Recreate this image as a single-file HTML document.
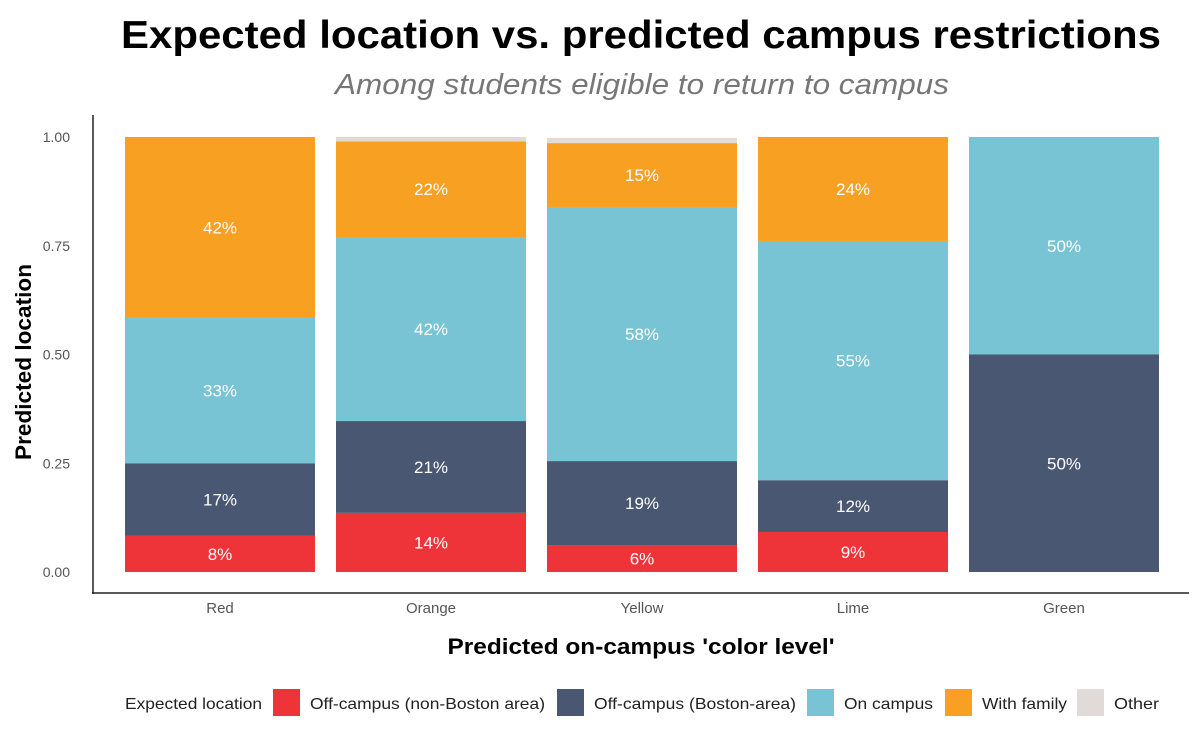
<!DOCTYPE html>
<html><head><meta charset="utf-8"><style>
body{margin:0;background:#fff;}
svg{display:block;font-family:"Liberation Sans",Arial,sans-serif;}
</style></head><body>
<svg id="chart" width="1200" height="738" viewBox="0 0 1200 738">
<text x="641" y="48" text-anchor="middle" font-size="39" font-weight="bold" fill="#000" textLength="1040" lengthAdjust="spacingAndGlyphs">Expected location vs. predicted campus restrictions</text>
<text x="642" y="94" text-anchor="middle" font-size="29" font-style="italic" fill="#777" textLength="614" lengthAdjust="spacingAndGlyphs">Among students eligible to return to campus</text>
<line x1="93" y1="115" x2="93" y2="594" stroke="#222" stroke-width="1.5"/>
<line x1="92" y1="593" x2="1189" y2="593" stroke="#222" stroke-width="1.5"/>
<text transform="translate(31,362) rotate(-90)" text-anchor="middle" font-size="22" font-weight="bold" fill="#000" textLength="196" lengthAdjust="spacingAndGlyphs">Predicted location</text>
<text x="641" y="654" text-anchor="middle" font-size="22" font-weight="bold" fill="#000" textLength="387" lengthAdjust="spacingAndGlyphs">Predicted on-campus 'color level'</text>
<g id="plot"></g>
<g id="legend"></g>
</svg>
<script>
const categories = ["Red","Orange","Yellow","Lime","Green"];
const offNonBoston = [0.083,0.136,0.062,0.092,0];
const offBoston = [0.167,0.211,0.193,0.119,0.5];
const onCampus = [0.334,0.423,0.584,0.550,0.5];
const withFamily = [0.416,0.220,0.147,0.239,0];
const other = [0,0.010,0.012,0,0];
const yTicks = [0,0.25,0.5,0.75,1.0];
const yTickLabels = ["0.00","0.25","0.50","0.75","1.00"];
const seriesNames = ["Off-campus (non-Boston area)","Off-campus (Boston-area)","On campus","With family","Other"];

const series = [offNonBoston,offBoston,onCampus,withFamily,other];
const colors = ["#ee3438","#4a5772","#78c3d4","#f7a021","#e0dbd9"];
const NS="http://www.w3.org/2000/svg";
const plot=document.getElementById('plot');
const y0=572, y1=137;
function yScale(v){return y0-(y0-y1)*v;}
const bandStart=114.5, bandStep=211, barW=190;
function xScale(i){return bandStart+bandStep*i+10.5;}
function mk(tag,attrs,parent){const e=document.createElementNS(NS,tag);for(const k in attrs)e.setAttribute(k,attrs[k]);parent.appendChild(e);return e;}

yTicks.forEach((t,i)=>{
  const tx=mk('text',{x:70,y:yScale(t)+5,'text-anchor':'end','font-size':14,fill:'#555'},plot);
  tx.textContent=yTickLabels[i];
  
  
});
categories.forEach((c,i)=>{
  const x=xScale(i);
  let cum=0;
  series.forEach((s,si)=>{
    const v=s[i];
    if(v<=0)return;
    const top=yScale(cum+v), bot=yScale(cum);
    const r=mk('rect',{x:x,y:top,width:barW,height:bot-top,fill:colors[si]},plot);
    
    
    if(v>=0.04){
      const t=mk('text',{x:x+barW/2,y:(top+bot)/2+6,'text-anchor':'middle','font-size':17,fill:'#fff'},plot);
      t.textContent=Math.round(v*100)+'%';
      
      
    }
    cum+=v;
  });
  const lt=mk('text',{x:x+barW/2,y:613,'text-anchor':'middle','font-size':15,fill:'#555'},plot);
  lt.textContent=c;
  
  
});
const lg=document.getElementById('legend');
const lt0=mk('text',{x:125,y:709,'font-size':16,fill:'#222',textLength:137,lengthAdjust:'spacingAndGlyphs'},lg);
lt0.textContent="Expected location";


const swX=[273,557,807,945,1077];
const txtW=[235,202,89,85,45];
seriesNames.forEach((n,i)=>{
  const r=mk('rect',{x:swX[i],y:689,width:27,height:27,fill:colors[i]},lg);
  
  
  const t=mk('text',{x:swX[i]+37,y:709,'font-size':16,fill:'#222',textLength:txtW[i],lengthAdjust:'spacingAndGlyphs'},lg);
  t.textContent=n;
  
  
});
</script>
</body></html>
